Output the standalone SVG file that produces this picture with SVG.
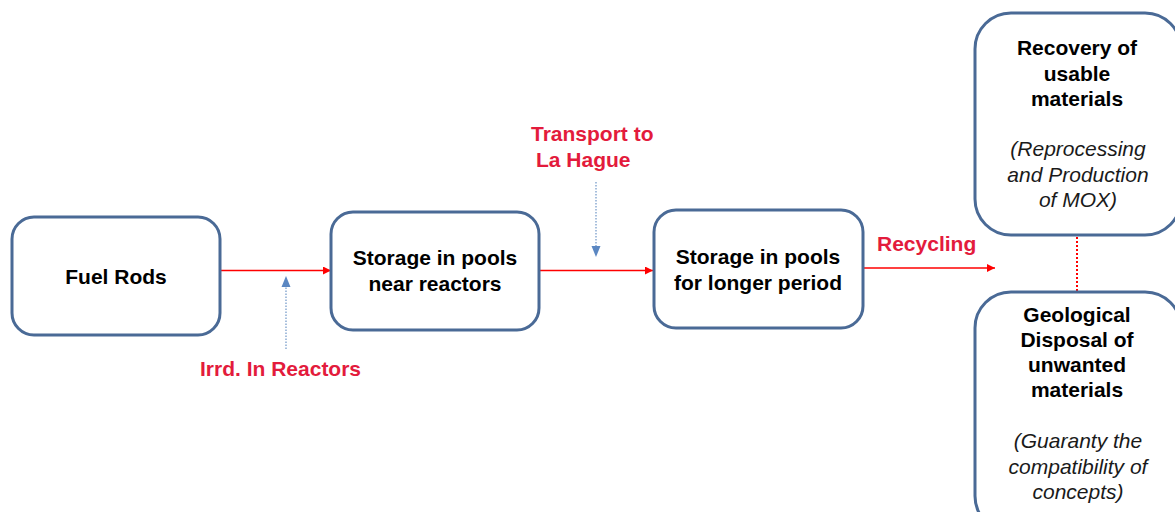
<svg xmlns="http://www.w3.org/2000/svg" width="1175" height="512" viewBox="0 0 1175 512">
  <style>
    .box { fill: #ffffff; stroke: #4a6a96; stroke-width: 3; }
    .t { font-family: "Liberation Sans", Arial, sans-serif; font-size: 21px; fill: #000000; text-anchor: middle; }
    .b { font-weight: bold; }
    .i { font-style: italic; fill: #1a1a1a; }
    .lbl { font-family: "Liberation Sans", Arial, sans-serif; font-size: 21px; font-weight: bold; fill: #e31b3c; }
    .flow { stroke: #ff0000; stroke-width: 1.5; fill: none; marker-end: url(#redHead); }
    .note { stroke: #6d94c6; stroke-width: 1.2; stroke-dasharray: 1.5 1.5; fill: none; }
    .link { stroke: #ff0000; stroke-width: 2; stroke-dasharray: 2 2; fill: none; }
  </style>
  <defs>
    <marker id="redHead" viewBox="0 0 10 10" refX="10" refY="5" markerWidth="10" markerHeight="8" markerUnits="userSpaceOnUse" orient="auto">
      <path d="M0,0 L10,5 L0,10 Z" fill="#ff0000"/>
    </marker>
  </defs>

  <rect width="1175" height="512" fill="#ffffff"/>

  <g id="connectors">
    <line class="flow" x1="221" y1="270.5" x2="331" y2="270.5"/>
    <line class="flow" x1="539" y1="270.5" x2="653" y2="270.5"/>
    <line class="flow" x1="863" y1="268" x2="995" y2="268"/>
    <!-- irradiation note arrow (up) -->
    <line class="note" x1="286" y1="349" x2="286" y2="285"/>
    <path d="M281.5,287 L286,276 L290.5,287 Z" fill="#5b87c2"/>
    <!-- transport note arrow (down) -->
    <line class="note" x1="596" y1="182" x2="596" y2="248"/>
    <path d="M591.5,246 L596,257 L600.5,246 Z" fill="#5b87c2"/>
    <!-- link between the two outcome boxes -->
    <line class="link" x1="1077" y1="237" x2="1077" y2="291"/>
  </g>

  <g id="fuel-rods">
    <rect class="box" x="12" y="217" width="208" height="118" rx="22"/>
    <text class="t b" x="116" y="284">Fuel Rods</text>
  </g>

  <g id="storage-near-reactors">
    <rect class="box" x="331" y="212" width="208" height="118" rx="22"/>
    <text class="t b" x="435" y="265">Storage in pools</text>
    <text class="t b" x="435" y="291">near reactors</text>
  </g>

  <g id="storage-longer-period">
    <rect class="box" x="654" y="210" width="209" height="118" rx="22"/>
    <text class="t b" x="758" y="264">Storage in pools</text>
    <text class="t b" x="758" y="290">for longer period</text>
  </g>

  <g id="recovery">
    <rect class="box" x="975" y="13" width="206" height="222" rx="36"/>
    <text class="t b" x="1077" y="55">Recovery of</text>
    <text class="t b" x="1077" y="81">usable</text>
    <text class="t b" x="1077" y="106">materials</text>
    <text class="t i" x="1078" y="156">(Reprocessing</text>
    <text class="t i" x="1078" y="182">and Production</text>
    <text class="t i" x="1078" y="207">of MOX)</text>
  </g>

  <g id="geological-disposal">
    <rect class="box" x="975" y="292" width="206" height="240" rx="36"/>
    <text class="t b" x="1077" y="322">Geological</text>
    <text class="t b" x="1077" y="347">Disposal of</text>
    <text class="t b" x="1077" y="372">unwanted</text>
    <text class="t b" x="1077" y="397">materials</text>
    <text class="t i" x="1078" y="448">(Guaranty the</text>
    <text class="t i" x="1078" y="474">compatibility of</text>
    <text class="t i" x="1078" y="499">concepts)</text>
  </g>

  <g id="labels">
    <text class="lbl" x="200" y="376">Irrd. In Reactors</text>
    <text class="lbl" x="531" y="141">Transport to</text>
    <text class="lbl" x="536" y="167">La Hague</text>
    <text class="lbl" x="877" y="251">Recycling</text>
  </g>
</svg>
